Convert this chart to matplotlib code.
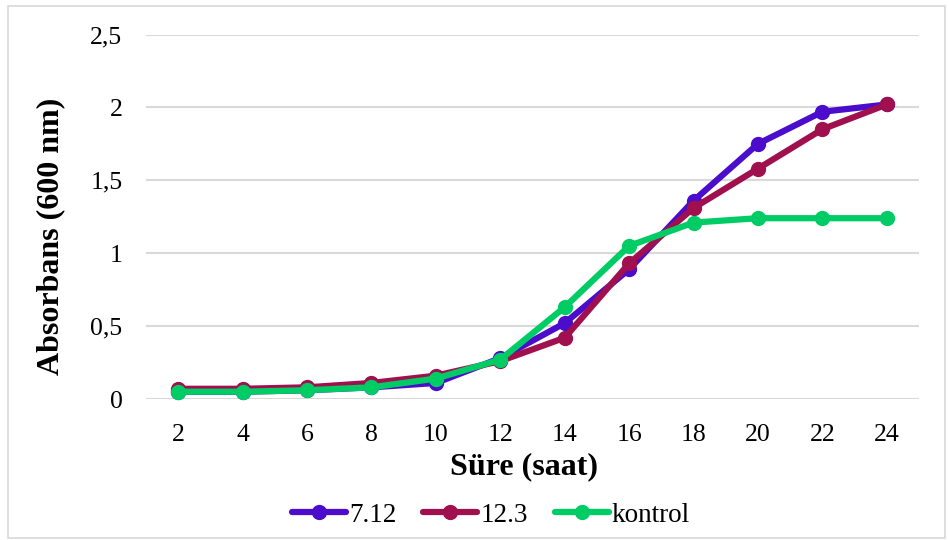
import matplotlib.pyplot as plt
from matplotlib.patches import Rectangle
import numpy as np

plt.rcParams['font.family'] = ['Liberation Serif', 'DejaVu Serif']

hours = [2, 4, 6, 8, 10, 12, 14, 16, 18, 20, 22, 24]
abs_712 = [0.05, 0.05, 0.06, 0.08, 0.11, 0.28, 0.52, 0.89, 1.36, 1.75, 1.97, 2.02]
abs_123 = [0.07, 0.07, 0.08, 0.11, 0.16, 0.26, 0.42, 0.93, 1.31, 1.58, 1.85, 2.02]
abs_ctrl = [0.05, 0.05, 0.06, 0.08, 0.14, 0.27, 0.63, 1.05, 1.21, 1.24, 1.24, 1.24]
series = ['7.12', '12.3', 'kontrol']
colors = ['#4B0CCB', '#A0104F', '#00CC66']
yticks = [0, 0.5, 1, 1.5, 2, 2.5]
ytick_labels = ['0', '0,5', '1', '1,5', '2', '2,5']

fig = plt.figure(figsize=(9.49, 5.4), dpi=100)
ax = fig.add_axes([146 / 949, 141 / 540, 773 / 949, 364.5 / 540])

for vals, name, c in zip([abs_712, abs_123, abs_ctrl], series, colors):
    ax.plot(hours, vals, color=c, lw=4.5, marker='o', ms=10, label=name,
            solid_capstyle='round', clip_on=False)

ax.set_xlim(1, 25)
ax.set_ylim(0, 2.5)
ax.set_xticks(hours)
ax.set_xticklabels([str(h) for h in hours])
ax.set_yticks(yticks)
ax.set_yticklabels(ytick_labels)
ax.tick_params(axis='both', length=0, labelsize=18.5)
ax.tick_params(axis='y', pad=17)
ax.tick_params(axis='x', pad=18)
ax.grid(axis='y', color='#d9d9d9', lw=1.5)
ax.set_axisbelow(True)
for s in ax.spines.values():
    s.set_visible(False)

ax.set_xlabel('Süre (saat)', fontsize=23, fontweight='bold')
ax.set_ylabel('Absorbans (600 nm)', fontsize=23, fontweight='bold')
ax.xaxis.set_label_coords(0.489, -0.145)
ax.yaxis.set_label_coords(-0.105, 0.447)

ax.legend(loc='center', bbox_to_anchor=(0.446, -(515 - 399) / 364.5),
          ncol=3, frameon=False, fontsize=19.5, handlelength=2.0,
          handletextpad=0.1, columnspacing=1.0, borderpad=0)

fig.patches.append(Rectangle((8 / 949, 2 / 540), 937 / 949, 532 / 540,
                             transform=fig.transFigure, fill=False,
                             edgecolor='#d9d9d9', lw=1.2))

fig.savefig('out.png', dpi=100)
